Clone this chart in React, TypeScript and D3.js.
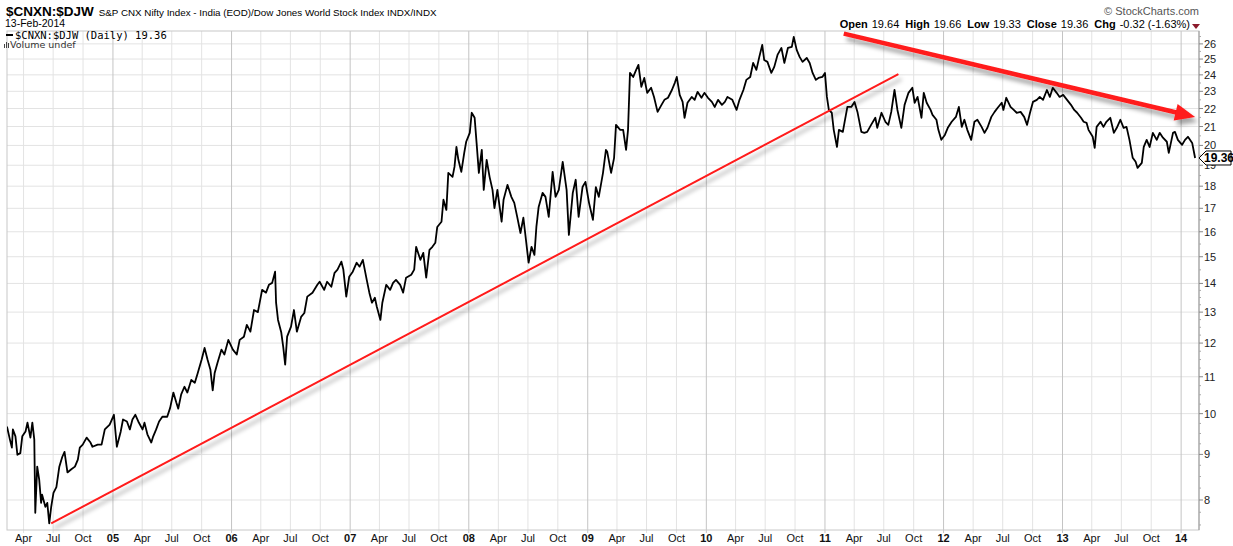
import React from "react";
import * as d3 from "d3";

const W = 1233;
const H = 546;
const plot = { left: 7, right: 1199, top: 31, bottom: 530 };

// Daily close readings of $CNXN:$DJW, grouped per year: [month-day, value]
const y2004: [string, number][] = [
  ["02-10", 9.67], ["02-19", 9.35], ["02-25", 9.16], ["02-28", 9.6], ["03-07", 9.43], ["03-13", 8.99],
  ["03-22", 9.03], ["03-28", 9.43], ["04-07", 9.55], ["04-13", 9.77], ["04-22", 9.4], ["04-28", 9.77],
  ["05-04", 9.35], ["05-07", 7.74], ["05-13", 8.72], ["05-19", 8.44], ["05-25", 7.94], ["05-28", 8.11],
  ["06-07", 7.86], ["06-13", 7.94], ["06-19", 7.53], ["06-25", 7.86], ["07-02", 8.15], ["07-11", 8.27],
  ["07-20", 8.72], ["07-29", 8.94], ["08-05", 9.06], ["08-14", 8.59], ["08-26", 8.66], ["09-06", 8.72],
  ["09-15", 8.88], ["09-21", 9.16], ["09-30", 9.23], ["10-12", 9.4], ["10-24", 9.28], ["10-30", 9.18],
  ["11-15", 9.23], ["11-27", 9.23], ["12-07", 9.6], ["12-22", 9.72],
];
const y2005: [string, number][] = [
  ["01-04", 9.97], ["01-13", 9.18], ["01-25", 9.55], ["02-01", 9.85], ["02-13", 9.8], ["02-22", 9.6],
  ["03-02", 9.85], ["03-11", 9.97], ["03-20", 9.8], ["04-02", 9.6], ["04-08", 9.77], ["04-17", 9.48],
  ["04-29", 9.28], ["05-05", 9.43], ["05-14", 9.6], ["05-23", 9.8], ["06-02", 9.92], ["06-17", 9.92],
  ["06-26", 10.15], ["07-06", 10.56], ["07-15", 10.29], ["07-21", 10.13], ["07-30", 10.51], ["08-09", 10.72],
  ["08-18", 10.56], ["08-30", 10.91], ["09-10", 10.83], ["09-19", 11.11], ["10-01", 11.5], ["10-10", 11.85],
  ["10-19", 11.5], ["10-28", 11.2], ["11-04", 10.62], ["11-10", 11.11], ["11-19", 11.41], ["12-01", 11.8],
  ["12-10", 11.65], ["12-22", 12.1],
];
const y2006: [string, number][] = [
  ["01-05", 11.8], ["01-17", 11.65], ["01-26", 12.1], ["02-08", 12.2], ["02-17", 12.58], ["02-28", 12.36],
  ["03-11", 13.07], ["03-23", 13.0], ["04-05", 13.77], ["04-17", 13.67], ["04-26", 13.95], ["05-06", 14.02],
  ["05-15", 14.43], ["05-18", 13.32], ["05-24", 12.74], ["06-03", 12.33], ["06-09", 11.88], ["06-15", 11.35],
  ["06-21", 12.2], ["07-03", 12.52], ["07-12", 13.07], ["07-21", 12.36], ["08-03", 12.84], ["08-13", 12.97],
  ["08-22", 13.53], ["09-07", 13.67], ["09-22", 13.95], ["09-29", 14.06], ["10-13", 13.77], ["10-22", 14.06],
  ["11-04", 13.88], ["11-14", 14.39], ["11-23", 14.51], ["12-05", 14.81], ["12-11", 14.51], ["12-20", 13.53],
  ["12-29", 14.24],
];
const y2007: [string, number][] = [
  ["01-09", 14.43], ["01-21", 14.77], ["01-30", 14.62], ["02-09", 14.88], ["02-21", 14.13], ["03-01", 13.67],
  ["03-09", 13.32], ["03-18", 13.49], ["03-24", 13.18], ["04-04", 12.74], ["04-10", 13.32], ["04-22", 13.95],
  ["05-04", 13.77], ["05-13", 14.02], ["05-22", 14.13], ["06-04", 13.95], ["06-13", 13.67], ["06-22", 14.21],
  ["07-08", 14.32], ["07-17", 14.51], ["07-23", 15.39], ["08-05", 14.88], ["08-14", 15.15], ["08-23", 14.21],
  ["09-02", 15.27], ["09-11", 15.39], ["09-20", 15.55], ["09-26", 16.2], ["10-09", 16.42], ["10-15", 17.38],
  ["10-24", 16.93], ["10-30", 18.63], ["11-12", 18.44], ["11-18", 18.92], ["11-24", 19.92], ["11-30", 19.27],
  ["12-09", 18.68], ["12-18", 19.62], ["12-24", 20.19],
];
const y2008: [string, number][] = [
  ["01-04", 20.66], ["01-10", 21.76], ["01-19", 21.48], ["01-25", 20.13], ["02-01", 18.63], ["02-10", 19.77],
  ["02-16", 17.83], ["02-25", 19.27], ["03-05", 18.44], ["03-14", 17.83], ["03-20", 17.01], ["03-29", 17.83],
  ["04-11", 16.42], ["04-17", 17.38], ["04-29", 18.06], ["05-11", 17.51], ["05-20", 17.24], ["05-29", 16.63],
  ["06-08", 15.95], ["06-17", 16.59], ["06-26", 15.55], ["07-03", 14.77], ["07-12", 15.39], ["07-21", 15.07],
  ["07-27", 16.2], ["08-03", 17.06], ["08-15", 17.69], ["08-24", 17.51], ["09-03", 16.63], ["09-15", 18.68],
  ["09-24", 17.51], ["10-04", 17.83], ["10-16", 19.17], ["10-28", 17.83], ["11-04", 15.87], ["11-16", 17.69],
  ["11-25", 18.3], ["12-04", 16.63], ["12-16", 17.96], ["12-25", 18.2],
];
const y2009: [string, number][] = [
  ["01-05", 17.24], ["01-17", 16.5], ["01-26", 17.96], ["02-04", 17.51], ["02-17", 18.63], ["02-26", 19.77],
  ["03-02", 19.67], ["03-14", 18.63], ["03-23", 19.35], ["03-29", 21.09], ["04-11", 20.82], ["04-20", 20.82],
  ["04-29", 19.77], ["05-05", 20.82], ["05-11", 24.12], ["05-21", 23.87], ["05-30", 24.31], ["06-06", 24.63],
  ["06-15", 23.27], ["06-24", 23.81], ["07-03", 22.91], ["07-15", 23.21], ["07-24", 22.67], ["08-04", 21.81],
  ["08-16", 22.21], ["08-25", 22.5], ["09-05", 22.62], ["09-17", 23.08], ["09-26", 23.51], ["10-02", 23.87],
  ["10-11", 22.79], ["10-20", 22.38], ["10-26", 21.48], ["11-04", 22.33], ["11-17", 22.67], ["11-26", 22.5],
  ["12-05", 22.97], ["12-17", 22.62], ["12-26", 22.91],
];
const y2010: [string, number][] = [
  ["01-06", 22.62], ["01-18", 22.38], ["01-27", 22.09], ["02-06", 22.5], ["02-18", 22.21], ["02-27", 22.38],
  ["03-07", 22.67], ["03-22", 22.5], ["04-04", 21.92], ["04-13", 22.5], ["04-25", 23.08], ["05-04", 23.69],
  ["05-16", 23.87], ["05-25", 24.75], ["06-04", 24.31], ["06-13", 25.14], ["06-22", 25.93], ["06-28", 24.94],
  ["07-08", 24.82], ["07-20", 24.12], ["07-29", 24.5], ["08-08", 25.27], ["08-20", 25.73], ["08-29", 24.75],
  ["09-09", 25.73], ["09-21", 25.8], ["09-27", 26.47], ["10-06", 25.6], ["10-15", 25.14], ["10-24", 24.82],
  ["11-06", 25.07], ["11-15", 24.75], ["11-24", 24.12], ["12-04", 23.69], ["12-12", 23.81], ["12-24", 23.87],
];
const y2011: [string, number][] = [
  ["01-01", 24.12], ["01-07", 22.67], ["01-13", 21.92], ["01-22", 21.76], ["01-28", 20.82], ["02-07", 19.92],
  ["02-13", 20.82], ["02-25", 20.71], ["03-02", 21.2], ["03-11", 22.09], ["03-23", 22.09], ["04-02", 22.38],
  ["04-11", 21.81], ["04-23", 20.71], ["05-02", 20.66], ["05-11", 20.71], ["05-23", 21.09], ["06-05", 21.48],
  ["06-11", 20.93], ["06-24", 21.76], ["07-06", 21.26], ["07-15", 21.09], ["07-24", 21.81], ["08-03", 23.08],
  ["08-12", 21.92], ["08-24", 20.93], ["09-03", 22.21], ["09-15", 22.91], ["09-27", 23.21], ["10-04", 22.33],
  ["10-13", 22.67], ["10-25", 21.48], ["11-01", 22.91], ["11-10", 22.33], ["11-22", 21.92], ["11-28", 21.64],
  ["12-10", 21.37], ["12-16", 20.82], ["12-25", 20.29],
];
const y2012: [string, number][] = [
  ["01-05", 20.55], ["01-14", 20.93], ["01-26", 21.26], ["02-08", 21.53], ["02-17", 22.09], ["02-26", 20.98],
  ["03-05", 21.37], ["03-14", 20.82], ["03-26", 20.29], ["04-05", 21.26], ["04-14", 21.37], ["04-27", 20.98],
  ["05-06", 20.66], ["05-15", 20.93], ["05-27", 21.53], ["06-06", 21.81], ["06-15", 22.03], ["06-28", 22.33],
  ["07-03", 21.92], ["07-12", 22.62], ["07-25", 22.09], ["08-04", 21.92], ["08-13", 21.76], ["08-25", 21.81],
  ["09-05", 21.53], ["09-14", 21.09], ["09-23", 21.76], ["10-02", 22.38], ["10-14", 22.5], ["10-23", 22.67],
  ["11-02", 22.5], ["11-14", 23.08], ["11-23", 22.67], ["12-02", 23.21], ["12-14", 22.91], ["12-23", 22.67],
];
const y2013: [string, number][] = [
  ["01-03", 22.79], ["01-15", 22.5], ["01-27", 22.21], ["02-06", 21.92], ["02-15", 21.76], ["02-27", 21.48],
  ["03-07", 21.26], ["03-16", 21.2], ["03-22", 20.82], ["04-04", 20.45], ["04-10", 19.87], ["04-16", 20.98],
  ["04-28", 21.26], ["05-07", 20.98], ["05-16", 21.26], ["05-28", 21.48], ["06-08", 20.66], ["06-17", 20.93],
  ["06-28", 21.37], ["07-08", 20.93], ["07-17", 20.98], ["07-26", 20.29], ["08-05", 19.37], ["08-14", 19.17],
  ["08-20", 18.87], ["09-02", 19.12], ["09-08", 19.92], ["09-17", 20.29], ["09-26", 19.92], ["10-06", 20.66],
  ["10-18", 20.29], ["10-27", 20.66], ["11-06", 20.4], ["11-18", 20.19], ["11-24", 19.62], ["12-07", 20.66],
  ["12-13", 20.71], ["12-22", 20.29],
];
const y2014: [string, number][] = [
  ["01-04", 20.03], ["01-13", 20.29], ["01-22", 20.45], ["02-04", 20.13], ["02-13", 19.36],
];

const yearSeries: [number, [string, number][]][] = [
  [2004, y2004], [2005, y2005], [2006, y2006], [2007, y2007], [2008, y2008],
  [2009, y2009], [2010, y2010], [2011, y2011], [2012, y2012], [2013, y2013], [2014, y2014],
];

const xDomain: [string, string] = ["2004-02-10", "2014-02-25"];
const yDomain: [number, number] = [7.403, 26.88];
const yTicks = [8, 9, 10, 11, 12, 13, 14, 15, 16, 17, 18, 19, 20, 21, 22, 23, 24, 25, 26];

const symbol = "$CNXN:$DJW";
const fullName = "S&P CNX Nifty Index - India (EOD)/Dow Jones World Stock Index INDX/INDX";
const asOf = "13-Feb-2014";
const legendText = "$CNXN:$DJW (Daily) 19.36";
const volumeText = "Volume undef";
const credit = "\u00A9 StockCharts.com";
const quote: [string, string][] = [
  ["Open", "19.64"], ["High", "19.66"], ["Low", "19.33"], ["Close", "19.36"], ["Chg", "-0.32 (-1.63%)"],
];
const lastValue = 19.36;

// Hand-drawn trend annotations: [date, value]
const upTrend: [string, number][] = [["2004-06-25", 7.53], ["2011-08-15", 24.05]];
const downTrend: [string, number][] = [["2011-02-28", 26.7], ["2014-02-13", 21.53]];

const parse = d3.timeParse("%Y-%m-%d");

export default function App() {
  React.useEffect(() => {
    document.body.style.margin = "0";
  }, []);

  const data = yearSeries.flatMap(([yr, arr]) =>
    arr.map(([md, v]) => ({ date: parse(`${yr}-${md}`) as Date, value: v }))
  );

  const x = d3
    .scaleTime()
    .domain(xDomain.map((d) => parse(d) as Date))
    .range([plot.left, plot.right]);
  const y = d3.scaleLog().domain(yDomain).range([plot.bottom, plot.top]);

  const line = d3
    .line<{ date: Date; value: number }>()
    .x((d) => x(d.date))
    .y((d) => y(d.value));

  const quarterTicks = d3.timeMonth
    .every(3)!
    .range(x.domain()[0], x.domain()[1])
    .filter((d) => d.getMonth() % 3 === 0);

  const minorTicks: number[] = [];
  for (let v = 7.5; v <= 26.75; v += v < 14 ? 0.25 : 0.5) {
    if (Math.abs(v - Math.round(v)) > 0.01 && y(v) > plot.top && y(v) < plot.bottom) minorTicks.push(v);
  }

  const fmtMonth = d3.timeFormat("%b");
  const fmtYear = d3.timeFormat("%y");

  const up = upTrend.map(([d, v]) => [x(parse(d) as Date), y(v)]);
  const dn = downTrend.map(([d, v]) => [x(parse(d) as Date), y(v)]);
  const dx = dn[1][0] - dn[0][0];
  const dy = dn[1][1] - dn[0][1];
  const len = Math.hypot(dx, dy);
  const ux = dx / len;
  const uy = dy / len;
  const headLen = 20;
  const headHalf = 8.5;
  const bx = dn[1][0] - ux * headLen;
  const by = dn[1][1] - uy * headLen;
  const head = [
    [dn[1][0], dn[1][1]],
    [bx - uy * headHalf, by + ux * headHalf],
    [bx + uy * headHalf, by - ux * headHalf],
  ];

  const ly = y(lastValue);
  const font = "'Liberation Sans', Arial, sans-serif";

  return (
    <svg width={W} height={H} style={{ position: "absolute", left: 0, top: 0, background: "#fff" }} fontFamily={font}>
      <defs>
        <clipPath id="plotClip">
          <rect x={plot.left} y={plot.top} width={plot.right - plot.left} height={plot.bottom - plot.top} />
        </clipPath>
        <filter id="shadow" filterUnits="userSpaceOnUse" x={0} y={0} width={W} height={H}>
          <feDropShadow dx={3} dy={5} stdDeviation={2.2} floodColor="#000" floodOpacity={0.35} />
        </filter>
      </defs>

      {/* header */}
      <text x={6} y={16} fontSize={13.5} fontWeight="bold" fill="#000">
        {symbol}
        <tspan dx={5} fontSize={9.8} fontWeight="normal">{fullName}</tspan>
      </text>
      <text x={5} y={27} fontSize={10.5} fill="#000">{asOf}</text>
      <text x={1199} y={15} fontSize={11} fill="#555" textAnchor="end">{credit}</text>
      <text x={1190} y={28} fontSize={11} fill="#000" textAnchor="end">
        {quote.map(([k, v], i) => (
          <React.Fragment key={k}>
            <tspan fontWeight="bold" dx={i === 0 ? 0 : 6}>{k}</tspan>
            <tspan dx={4}>{v}</tspan>
          </React.Fragment>
        ))}
      </text>
      <path d="M1192,24 L1200,24 L1196,29 Z" fill="#8b1a2b" />

      {/* grid */}
      {yTicks.map((t) => (
        <line key={`h${t}`} x1={plot.left} x2={plot.right} y1={y(t)} y2={y(t)} stroke="#e3e3e3" />
      ))}
      {quarterTicks.map((d) => (
        <line
          key={`v${+d}`}
          x1={x(d)}
          x2={x(d)}
          y1={plot.top}
          y2={plot.bottom + 3}
          stroke={d.getMonth() === 0 ? "#c4c4c4" : "#e3e3e3"}
        />
      ))}

      {/* frame */}
      <rect x={plot.left} y={plot.top} width={plot.right - plot.left} height={plot.bottom - plot.top} fill="none" stroke="#c8c8c8" />
      <line x1={plot.right} x2={plot.right} y1={plot.top} y2={plot.bottom} stroke="#999" />

      {/* y axis */}
      {minorTicks.map((t) => (
        <line key={`m${t}`} x1={plot.right} x2={plot.right + 2} y1={y(t)} y2={y(t)} stroke="#aaa" />
      ))}
      {yTicks.map((t) => (
        <g key={`yt${t}`}>
          <line x1={plot.right} x2={plot.right + 4} y1={y(t)} y2={y(t)} stroke="#888" />
          <text x={1204} y={y(t) + 4} fontSize={11} fill="#222">{t}</text>
        </g>
      ))}

      {/* x axis */}
      {quarterTicks.map((d) => (
        <text
          key={`xl${+d}`}
          x={x(d)}
          y={542}
          fontSize={11}
          textAnchor="middle"
          fontWeight={d.getMonth() === 0 ? "bold" : "normal"}
          fill="#111"
        >
          {d.getMonth() === 0 ? fmtYear(d) : fmtMonth(d)}
        </text>
      ))}

      {/* legend */}
      <line x1={6} x2={13} y1={35} y2={35} stroke="#000" strokeWidth={2} />
      <text x={15} y={39} fontSize={10.5} fontFamily="'DejaVu Sans Mono', monospace" fill="#000">{legendText}</text>
      <g fill="#444">
        <rect x={4} y={44} width={1} height={4} />
        <rect x={6} y={42} width={1} height={6} />
        <rect x={8} y={43} width={1} height={5} />
      </g>
      <text x={10} y={48} fontSize={9.5} fontFamily="'DejaVu Sans', Verdana, sans-serif" fill="#333">{volumeText}</text>

      {/* price line */}
      <g clipPath="url(#plotClip)">
        <path d={line(data) ?? ""} fill="none" stroke="#000" strokeWidth={1.8} strokeLinejoin="round" />
      </g>

      {/* annotations */}
      <g filter="url(#shadow)">
        <line x1={up[0][0]} y1={up[0][1]} x2={up[1][0]} y2={up[1][1]} stroke="#ff1a1a" strokeWidth={2} />
      </g>
      <g filter="url(#shadow)">
        <line x1={dn[0][0]} y1={dn[0][1]} x2={bx + ux * 2} y2={by + uy * 2} stroke="#ff1a1a" strokeWidth={4.5} />
        <path d={`M${head.map((p) => p.join(",")).join("L")}Z`} fill="#ff1a1a" />
      </g>

      {/* last value tag */}
      <path
        d={`M${plot.right},${ly} L${plot.right + 7},${ly - 7} L1231,${ly - 7} L1231,${ly + 7} L${plot.right + 7},${ly + 7} Z`}
        fill="#fff"
        stroke="#000"
      />
      <text x={1219} y={ly + 4.5} fontSize={12} fontWeight="bold" textAnchor="middle" fill="#000">
        {lastValue.toFixed(2)}
      </text>
    </svg>
  );
}
